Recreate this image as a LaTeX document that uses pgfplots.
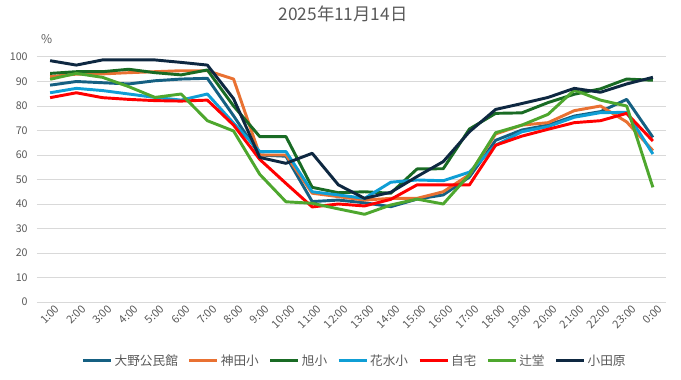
\documentclass[border=0pt]{standalone}
\usepackage{fontspec}
\setmainfont{Noto Sans CJK JP}
\usepackage{pgfplots}
\usepackage{pgfplotstable}
\pgfplotsset{compat=1.18}
\definecolor{cA}{HTML}{156082}
\definecolor{cB}{HTML}{E97132}
\definecolor{cC}{HTML}{196B24}
\definecolor{cD}{HTML}{0F9ED5}
\definecolor{cE}{HTML}{FF0000}
\definecolor{cF}{HTML}{4EA72E}
\definecolor{cG}{HTML}{0E2841}
\definecolor{txt}{HTML}{595959}
\definecolor{gridc}{HTML}{D9D9D9}

\pgfplotstableread{
x  A     B     C     D     E     F     G
0  88.5  92.0  93.3  85.4  83.4  90.9  98.5
1  90.0  93.0  94.0  87.2  85.4  93.3  96.7
2  89.5  93.1  94.0  86.3  83.4  91.7  98.8
3  89.0  93.6  95.0  84.9  82.7  87.9  98.8
4  90.3  94.0  93.6  83.5  82.2  83.5  98.8
5  91.0  94.4  92.7  82.4  82.0  84.9  97.8
6  91.3  94.4  94.7  84.9  82.4  74.0  96.7
7  76.0  91.0  80.0  73.0  72.2  69.8  83.0
8  60.0  60.0  67.5  61.4  58.2  52.1  59.0
9  59.5  60.0  67.5  61.4  48.4  40.9  56.6
10 41.0  44.4  46.8  45.0  38.8  40.3  60.7
11 41.6  43.0  44.6  43.7  40.0  38.0  47.8
12 40.5  41.6  45.0  42.3  39.2  35.8  42.3
13 38.9  42.3  44.4  48.9  41.9  39.6  44.8
14 42.0  42.3  54.3  49.8  47.8  42.0  51.2
15 43.7  45.0  54.4  49.5  47.8  40.0  57.3
16 51.0  52.0  70.6  53.0  47.8  52.0  69.5
17 66.0  68.6  77.0  64.0  64.0  69.1  78.6
18 70.2  72.2  77.2  69.5  67.7  72.2  81.0
19 72.2  73.2  81.4  71.6  70.5  76.6  83.5
20 75.9  78.1  84.8  75.4  73.2  86.5  87.2
21 77.7  80.0  87.0  77.3  74.0  82.4  85.6
22 82.7  73.5  91.0  77.4  77.0  80.0  89.0
23 67.2  61.8  90.5  60.4  65.7  46.8  91.7
}\datatable

\begin{document}
\begin{tikzpicture}
\path[use as bounding box] (0,0) rectangle (510.75pt,284.25pt);
\begin{axis}[
  at={(27.75pt,57.75pt)}, anchor=south west,
  scale only axis, width=471.75pt, height=183.75pt,
  xmin=-0.5, xmax=23.5, ymin=0, ymax=100,
  clip=false,
  xtick={0,...,23},
  xticklabels={1:00,2:00,3:00,4:00,5:00,6:00,7:00,8:00,9:00,10:00,11:00,12:00,13:00,14:00,15:00,16:00,17:00,18:00,19:00,20:00,21:00,22:00,23:00,0:00},
  ytick={0,10,...,100},
  ymajorgrids, major grid style={gridc, line width=0.75pt},
  axis line style={draw=none},
  major tick length=0pt,
  tick label style={font=\fontsize{8}{9}\selectfont, text=txt},
  /pgf/number format/assume math mode=true,
  xticklabel style={rotate=45, anchor=east, yshift=-6.5pt, xshift=2.5pt, inner sep=1pt, font=\fontsize{8.3}{9}\selectfont},
  yticklabel style={xshift=-3.5pt},
  no markers,
  every axis plot/.append style={line width=2.2pt, line join=round},
  title={2025年11月14日},
  title style={at={(axis description cs:0.4865,1)}, anchor=center, yshift=26.25pt, font=\fontsize{13}{15}\selectfont, text=txt},
  legend style={at={(0.505,-0.24)}, anchor=center, draw=none, fill=none, legend columns=-1, font=\fontsize{9.5}{11}\selectfont, text=txt, nodes={inner sep=1.5pt}, /tikz/every even column/.append style={column sep=6pt}},
  legend image code/.code={\draw[#1, line width=2.2pt] (0pt,0pt) -- (21pt,0pt);},
]
\addplot[cA] table[x=x,y=A] {\datatable};
\addlegendentry{大野公民館}
\addplot[cB] table[x=x,y=B] {\datatable};
\addlegendentry{神田小}
\addplot[cC] table[x=x,y=C] {\datatable};
\addlegendentry{旭小}
\addplot[cD] table[x=x,y=D] {\datatable};
\addlegendentry{花水小}
\addplot[cE] table[x=x,y=E] {\datatable};
\addlegendentry{自宅}
\addplot[cF] table[x=x,y=F] {\datatable};
\addlegendentry{辻堂}
\addplot[cG] table[x=x,y=G] {\datatable};
\addlegendentry{小田原}
\node[text=txt, font=\fontsize{9}{10}\selectfont] at (axis description cs:0,1) [xshift=7.3pt, yshift=13.5pt] {\%};
\end{axis}
\end{tikzpicture}
\end{document}
